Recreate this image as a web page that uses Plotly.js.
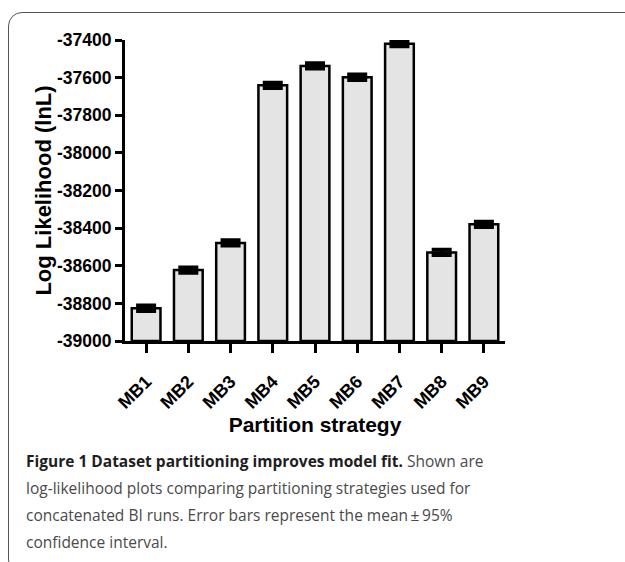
<!DOCTYPE html>
<html>
<head>
<meta charset="utf-8">
<script src="https://cdn.plot.ly/plotly-3.0.1.min.js"></script>
<style>
  html, body { margin: 0; padding: 0; background: #fff; }
  #wrap { position: relative; width: 625px; height: 562px; overflow: hidden; }
  #frame { position: absolute; left: 8px; top: 12px; width: 640px; height: 560px;
           border: 1.5px solid #555; border-radius: 14px; pointer-events: none; z-index: 5; }
  #chart { position: absolute; left: 0; top: 0; width: 625px; height: 562px; }
</style>
</head>
<body>
<div id="wrap">
  <div id="chart"></div>
  <div id="frame"></div>
</div>
<script>
// ---- data ----
const categories = ["MB1", "MB2", "MB3", "MB4", "MB5", "MB6", "MB7", "MB8", "MB9"];
const meanLnL = [-38826, -38623, -38479, -37641, -37538, -37598, -37420, -38529, -38380];
const ci95 = [15, 14, 14, 14, 14, 14, 13, 14, 14];
const yTickVals = [-39000, -38800, -38600, -38400, -38200, -38000, -37800, -37600, -37400];
const yTickText = ["-39000", "-38800", "-38600", "-38400", "-38200", "-38000", "-37800", "-37600", "-37400"];
const axisFloor = -39000;

const captionLines = [
  '<b>Figure 1 Dataset partitioning improves model fit.</b> <span style="color:#4a4a4a">Shown are</span>',
  'log-likelihood plots comparing partitioning strategies used for',
  'concatenated BI runs. Error bars represent the mean\u2009\u00B1\u200995%',
  'confidence interval.'
];

const heights = meanLnL.map(v => v - axisFloor);

const trace = {
  type: 'bar',
  x: categories,
  y: heights,
  base: axisFloor,
  width: 0.68,
  marker: { color: '#e4e4e4', line: { color: '#000', width: 2.5 } },
  error_y: { type: 'data', array: ci95, visible: true, color: '#000', thickness: 4, width: 10 },
  hoverinfo: 'skip'
};

const boldFont = { family: 'Arial, "Liberation Sans", sans-serif', color: '#000', weight: 'bold' };

const L = 125, R = 120, T = 40, B = 221, W = 625, H = 562;
const plotH = H - T - B;
function py(pixY) { return (H - B - pixY) / plotH; }
function px(pixX) { return (pixX - L) / (W - L - R); }

const captionYs = [461, 488, 515, 542];
const annotations = captionLines.map((t, i) => ({
  text: t,
  xref: 'paper', yref: 'paper',
  x: px(24), y: py(captionYs[i]),
  xanchor: 'left', yanchor: 'middle',
  showarrow: false,
  align: 'left',
  font: { family: '"Open Sans", "Noto Sans", sans-serif', size: 15.5, color: i === 0 ? '#1e1e1e' : '#4a4a4a' }
}));

const layout = {
  width: W, height: H,
  margin: { l: L, r: R, t: T, b: B, pad: 0 },
  paper_bgcolor: '#fff',
  plot_bgcolor: 'rgba(0,0,0,0)',
  showlegend: false,
  xaxis: {
    type: 'category',
    range: [-0.5, 8.5],
    showline: true, linecolor: '#000', linewidth: 3,
    ticks: 'outside', ticklen: 9, tickwidth: 3, tickcolor: '#000',
    tickangle: -45,
    ticklabelstandoff: 11,
    tickfont: Object.assign({ size: 18 }, boldFont),
    showgrid: false, zeroline: false,
    title: { text: 'Partition strategy', font: Object.assign({ size: 21 }, boldFont), standoff: 6 },
    automargin: false
  },
  yaxis: {
    range: [-39000, -37400],
    tickmode: 'array', tickvals: yTickVals, ticktext: yTickText,
    showline: true, linecolor: '#000', linewidth: 3,
    ticks: 'outside', ticklen: 7, tickwidth: 3, tickcolor: '#000',
    tickfont: Object.assign({ size: 17.5 }, boldFont),
    showgrid: false, zeroline: false,
    title: { text: 'Log Likelihood (lnL)', font: Object.assign({ size: 22 }, boldFont), standoff: 0 },
    automargin: false
  },
  annotations: annotations
};

Plotly.newPlot('chart', [trace], layout, { displayModeBar: false, staticPlot: true });
</script>
</body>
</html>
